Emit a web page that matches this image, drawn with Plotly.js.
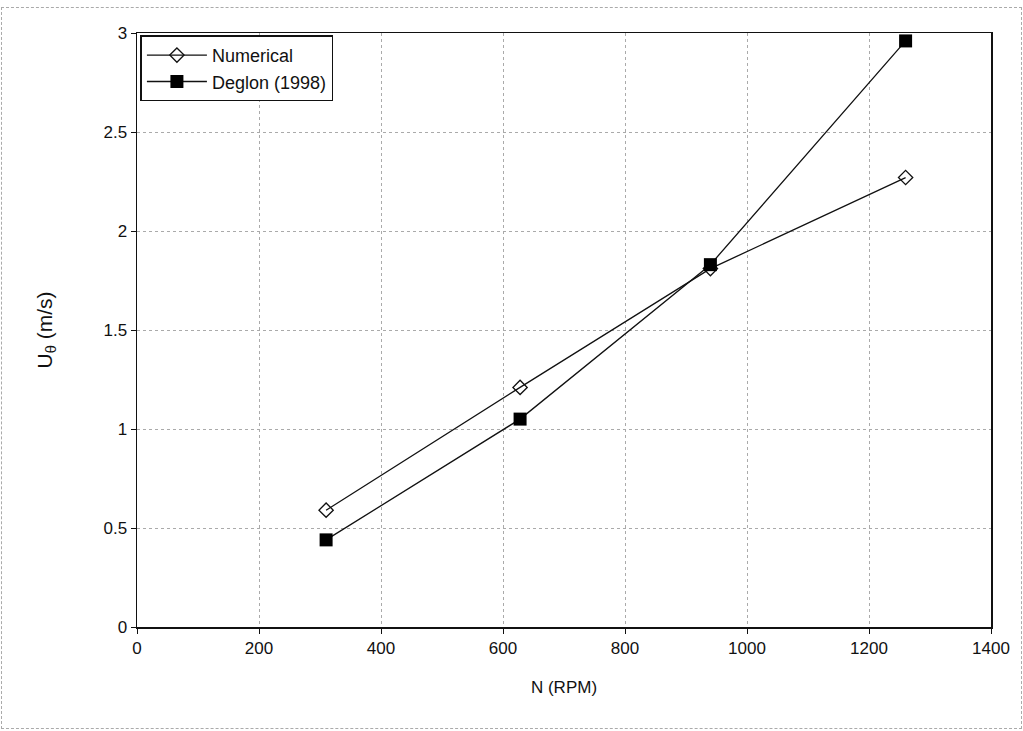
<!DOCTYPE html>
<html>
<head>
<meta charset="utf-8">
<script src="https://cdn.plot.ly/plotly-3.0.1.min.js"></script>
<style>
html,body{margin:0;padding:0;background:#fff;}
#frame{position:absolute;left:1px;top:7px;width:1021px;height:722px;border:1px dashed #aaa;box-sizing:border-box;}
#chart{position:absolute;left:0;top:0;width:1023px;height:731px;}
</style>
</head>
<body>
<div id="frame"></div>
<div id="chart"></div>
<script>
const rpm = [310, 628, 940, 1260];
const numerical = [0.59, 1.21, 1.81, 2.27];
const deglon = [0.44, 1.05, 1.83, 2.96];
const xTicks = [0, 200, 400, 600, 800, 1000, 1200, 1400];
const yTicks = [0, 0.5, 1, 1.5, 2, 2.5, 3];

const traces = [
  {
    x: rpm, y: numerical, name: 'Numerical', type: 'scatter', mode: 'lines+markers',
    line: {color: '#111', width: 1.3},
    marker: {symbol: 'diamond-open', size: 11, color: '#111', line: {width: 1.3, color: '#111'}}
  },
  {
    x: rpm, y: deglon, name: 'Deglon (1998)', type: 'scatter', mode: 'lines+markers',
    line: {color: '#111', width: 1.3},
    marker: {symbol: 'square', size: 13, color: '#000'}
  }
];

const layout = {
  width: 1023, height: 731,
  margin: {l: 137, r: 32, t: 33, b: 104},
  paper_bgcolor: 'rgba(0,0,0,0)',
  plot_bgcolor: '#fff',
  font: {family: 'Liberation Sans, Arial, sans-serif', size: 17, color: '#111'},
  showlegend: true,
  legend: {
    x: 0.004, y: 0.996, xanchor: 'left', yanchor: 'top',
    bgcolor: '#fff', bordercolor: '#111', borderwidth: 1.5,
    font: {size: 18, color: '#111'},
    tracegroupgap: 0, itemwidth: 60
  },
  xaxis: {
    range: [0, 1400], tickvals: xTicks, ticktext: xTicks.map(String),
    showgrid: true, gridcolor: '#aaa', griddash: 'dot', gridwidth: 1,
    zeroline: false, showline: true, linecolor: '#111', linewidth: 1.5, mirror: true,
    ticks: 'outside', ticklen: 5, tickcolor: '#111',
    title: {text: 'N (RPM)', font: {size: 17}, standoff: 24},
    tickfont: {size: 17}
  },
  yaxis: {
    range: [0, 3], tickvals: yTicks, ticktext: yTicks.map(String),
    showgrid: true, gridcolor: '#aaa', griddash: 'dot', gridwidth: 1,
    zeroline: false, showline: true, linecolor: '#111', linewidth: 1.5, mirror: true,
    ticks: 'outside', ticklen: 5, tickcolor: '#111',
    title: {text: 'U<sub>θ</sub> (m/s)', font: {size: 21}, standoff: 45},
    tickfont: {size: 17}
  }
};

Plotly.newPlot('chart', traces, layout, {displayModeBar: false, staticPlot: true});
</script>
</body>
</html>
